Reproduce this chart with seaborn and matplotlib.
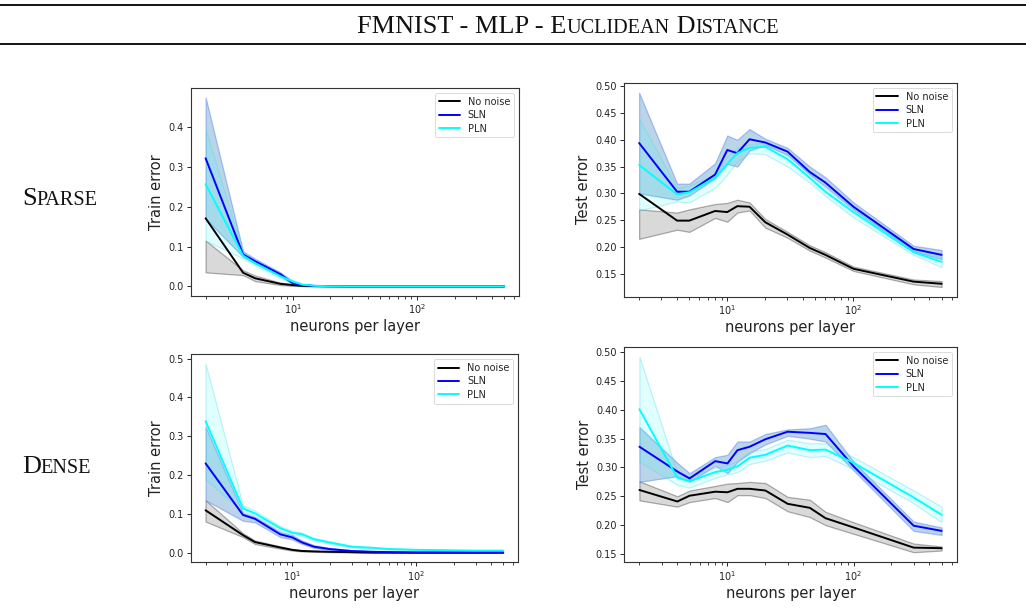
import numpy as np
import pandas as pd
import matplotlib
matplotlib.use("Agg")
import matplotlib.pyplot as plt
import seaborn as sns
from matplotlib.lines import Line2D

# ---------------- data ----------------
neurons = [2, 4, 5, 8, 10, 12, 15, 20, 30, 45, 60, 100, 300, 500]
series_names = ["No noise", "SLN", "PLN"]

# Sparse - train
sp_tr_none = [0.171, 0.034, 0.020, 0.006, 0.003, 0.001, 0.0005, 0, 0, 0, 0, 0, 0, 0]
sp_tr_none_lo = [0.035, 0.028, 0.013, 0.003, 0.001, 0.0003, 0, 0, 0, 0, 0, 0, 0, 0]
sp_tr_none_hi = [0.115, 0.040, 0.027, 0.009, 0.005, 0.002, 0.001, 0, 0, 0, 0, 0, 0, 0]
sp_tr_sln = [0.322, 0.080, 0.063, 0.030, 0.008, 0.003, 0.001, 0.0005, 0, 0, 0, 0, 0, 0]
sp_tr_sln_lo = [0.170, 0.074, 0.057, 0.025, 0.005, 0.001, 0, 0, 0, 0, 0, 0, 0, 0]
sp_tr_sln_hi = [0.475, 0.088, 0.069, 0.035, 0.012, 0.005, 0.002, 0.001, 0, 0, 0, 0, 0, 0]
sp_tr_pln = [0.257, 0.077, 0.058, 0.025, 0.012, 0.004, 0.001, 0, 0, 0, 0, 0, 0, 0]
sp_tr_pln_lo = [0.115, 0.070, 0.052, 0.020, 0.008, 0.002, 0, 0, 0, 0, 0, 0, 0, 0]
sp_tr_pln_hi = [0.395, 0.085, 0.065, 0.030, 0.016, 0.006, 0.002, 0, 0, 0, 0, 0, 0, 0]

# Sparse - test
sp_te_none = [0.299, 0.249, 0.249, 0.267, 0.265, 0.276, 0.275, 0.246, 0.223, 0.198, 0.185, 0.159, 0.135, 0.131]
sp_te_none_lo = [0.215, 0.232, 0.228, 0.254, 0.247, 0.264, 0.268, 0.236, 0.217, 0.193, 0.180, 0.155, 0.130, 0.125]
sp_te_none_hi = [0.270, 0.264, 0.270, 0.280, 0.282, 0.288, 0.283, 0.252, 0.228, 0.203, 0.190, 0.163, 0.139, 0.136]
sp_te_sln = [0.394, 0.303, 0.303, 0.335, 0.381, 0.375, 0.401, 0.395, 0.378, 0.340, 0.320, 0.275, 0.196, 0.185]
sp_te_sln_lo = [0.300, 0.288, 0.296, 0.328, 0.355, 0.350, 0.380, 0.390, 0.372, 0.335, 0.313, 0.270, 0.192, 0.177]
sp_te_sln_hi = [0.488, 0.318, 0.318, 0.356, 0.408, 0.400, 0.420, 0.402, 0.385, 0.350, 0.330, 0.283, 0.202, 0.194]
sp_te_pln = [0.353, 0.298, 0.302, 0.329, 0.355, 0.375, 0.385, 0.387, 0.364, 0.329, 0.303, 0.265, 0.190, 0.172]
sp_te_pln_lo = [0.268, 0.285, 0.283, 0.310, 0.335, 0.360, 0.375, 0.373, 0.350, 0.320, 0.295, 0.255, 0.185, 0.162]
sp_te_pln_hi = [0.440, 0.310, 0.315, 0.335, 0.370, 0.385, 0.392, 0.395, 0.370, 0.338, 0.310, 0.270, 0.197, 0.180]

# Dense - train
de_tr_none = [0.109, 0.045, 0.027, 0.013, 0.007, 0.004, 0.003, 0.002, 0.001, 0, 0, 0, 0, 0]
de_tr_none_lo = [0.080, 0.040, 0.022, 0.010, 0.005, 0.003, 0.002, 0.001, 0.0005, 0, 0, 0, 0, 0]
de_tr_none_hi = [0.135, 0.050, 0.031, 0.016, 0.009, 0.006, 0.004, 0.003, 0.0015, 0, 0, 0, 0, 0]
de_tr_sln = [0.230, 0.097, 0.087, 0.047, 0.039, 0.026, 0.015, 0.009, 0.004, 0.002, 0.001, 0, 0, 0]
de_tr_sln_lo = [0.135, 0.082, 0.078, 0.040, 0.034, 0.022, 0.012, 0.007, 0.003, 0.001, 0.0005, 0, 0, 0]
de_tr_sln_hi = [0.325, 0.102, 0.092, 0.053, 0.045, 0.031, 0.019, 0.012, 0.006, 0.003, 0.002, 0.001, 0, 0]
de_tr_pln = [0.339, 0.114, 0.101, 0.063, 0.051, 0.047, 0.034, 0.026, 0.015, 0.012, 0.009, 0.007, 0.005, 0.005]
de_tr_pln_lo = [0.189, 0.105, 0.095, 0.058, 0.047, 0.043, 0.030, 0.023, 0.013, 0.010, 0.008, 0.006, 0.004, 0.004]
de_tr_pln_hi = [0.487, 0.122, 0.108, 0.068, 0.056, 0.051, 0.038, 0.029, 0.018, 0.014, 0.011, 0.008, 0.006, 0.006]

# Dense - test
de_te_none = [0.261, 0.241, 0.251, 0.258, 0.257, 0.263, 0.263, 0.260, 0.237, 0.230, 0.212, 0.196, 0.161, 0.160]
de_te_none_lo = [0.243, 0.232, 0.240, 0.247, 0.240, 0.252, 0.252, 0.247, 0.224, 0.214, 0.200, 0.185, 0.153, 0.156]
de_te_none_hi = [0.276, 0.250, 0.260, 0.268, 0.272, 0.273, 0.275, 0.273, 0.249, 0.244, 0.223, 0.205, 0.168, 0.163]
de_te_sln = [0.336, 0.293, 0.281, 0.311, 0.307, 0.330, 0.336, 0.349, 0.362, 0.360, 0.358, 0.302, 0.199, 0.190]
de_te_sln_lo = [0.275, 0.285, 0.275, 0.303, 0.290, 0.310, 0.325, 0.340, 0.355, 0.350, 0.345, 0.295, 0.190, 0.183]
de_te_sln_hi = [0.370, 0.308, 0.290, 0.318, 0.322, 0.345, 0.345, 0.358, 0.366, 0.368, 0.374, 0.310, 0.206, 0.196]
de_te_pln = [0.401, 0.282, 0.276, 0.292, 0.296, 0.302, 0.317, 0.322, 0.338, 0.330, 0.331, 0.308, 0.248, 0.218]
de_te_pln_lo = [0.310, 0.270, 0.265, 0.282, 0.288, 0.292, 0.306, 0.312, 0.326, 0.318, 0.320, 0.297, 0.238, 0.205]
de_te_pln_hi = [0.492, 0.290, 0.285, 0.300, 0.305, 0.312, 0.327, 0.332, 0.348, 0.342, 0.342, 0.318, 0.260, 0.232]

title_parts = [("FMNIST - MLP - E", "big"), ("UCLIDEAN", "small"), (" D", "big"), ("ISTANCE", "small")]
row_labels = [[("S", "big"), ("PARSE", "small")], [("D", "big"), ("ENSE", "small")]]
xlabel = "neurons per layer"
ylabels = ["Train error", "Test error"]

# ---------------- styling ----------------
sns.set_style("ticks")
plt.rcParams["font.family"] = ["DejaVu Sans"]

line_colors = {"No noise": "black", "SLN": "blue", "PLN": "cyan"}
band_face = {"No noise": ("black", 0.15), "SLN": ("#1f77b4", 0.30), "PLN": ("cyan", 0.12)}
band_edge = {"No noise": ("black", 0.30), "SLN": ("#4f7fee", 0.45), "PLN": ("#5fd8e0", 0.35)}

W, H = 1026, 616
fig = plt.figure(figsize=(W / 100, H / 100), dpi=100)

def rect(l, t, r, b):
    return [l / W, 1 - b / H, (r - l) / W, (b - t) / H]

axes_rects = [
    rect(190.7, 88, 519, 295.7),
    rect(624, 83, 956.7, 296.7),
    rect(190.7, 354.3, 518, 562),
    rect(624.3, 347, 956.7, 562),
]

panels = [
    [(sp_tr_none, sp_tr_none_lo, sp_tr_none_hi), (sp_tr_sln, sp_tr_sln_lo, sp_tr_sln_hi), (sp_tr_pln, sp_tr_pln_lo, sp_tr_pln_hi)],
    [(sp_te_none, sp_te_none_lo, sp_te_none_hi), (sp_te_sln, sp_te_sln_lo, sp_te_sln_hi), (sp_te_pln, sp_te_pln_lo, sp_te_pln_hi)],
    [(de_tr_none, de_tr_none_lo, de_tr_none_hi), (de_tr_sln, de_tr_sln_lo, de_tr_sln_hi), (de_tr_pln, de_tr_pln_lo, de_tr_pln_hi)],
    [(de_te_none, de_te_none_lo, de_te_none_hi), (de_te_sln, de_te_sln_lo, de_te_sln_hi), (de_te_pln, de_te_pln_lo, de_te_pln_hi)],
]

for i, (r, pdata) in enumerate(zip(axes_rects, panels)):
    ax = fig.add_axes(r)
    rows = []
    for name, (m, lo, hi) in zip(series_names, pdata):
        for x, v in zip(neurons, m):
            rows.append({"neurons": x, "error": v, "series": name})
        fc, fa = band_face[name]
        ec, ea = band_edge[name]
        ax.fill_between(neurons, lo, hi, facecolor=matplotlib.colors.to_rgba(fc, fa),
                        edgecolor=matplotlib.colors.to_rgba(ec, ea), linewidth=0.9)
    df = pd.DataFrame(rows)
    sns.lineplot(data=df, x="neurons", y="error", hue="series", palette=line_colors,
                 hue_order=series_names, ax=ax, linewidth=1.4, errorbar=None)
    ax.set_xscale("log")
    ax.set_xlabel(xlabel, fontsize=10.5, labelpad=2, color="#222222")
    ax.set_ylabel(ylabels[i % 2], fontsize=10.5, labelpad=3, color="#222222")
    ax.tick_params(axis="both", labelsize=7, length=3, width=0.7, pad=2, labelcolor="#222222")
    ax.tick_params(axis="both", which="minor", length=1.8, width=0.6)
    if i % 2 == 1:
        ax.set_yticks(np.arange(0.15, 0.501, 0.05))
        ax.yaxis.set_major_formatter(matplotlib.ticker.FormatStrFormatter("%.2f"))
    else:
        ax.yaxis.set_major_formatter(matplotlib.ticker.FormatStrFormatter("%.1f"))
    for sp in ax.spines.values():
        sp.set_visible(True)
        sp.set_linewidth(0.8)
        sp.set_color("#333333")
    leg = ax.legend(loc="upper right", fontsize=7, frameon=True, fancybox=True,
                    handlelength=2.2, borderpad=0.4, labelspacing=0.35)
    leg.get_frame().set_linewidth(0.6)
    leg.get_frame().set_edgecolor("#cccccc")

# ---------------- title and row labels (small caps) ----------------
renderer = fig.canvas.get_renderer()
BIG, SMALL = 18.9, 14.6
serif = ["Liberation Serif", "DejaVu Serif"]

def small_caps(parts, x0, y_base, center=False):
    texts = []
    for s, kind in parts:
        t = fig.text(0, 0, s, fontsize=BIG if kind == "big" else SMALL, family=serif,
                     va="baseline", ha="left", transform=None, color="#111111")
        texts.append(t)
    widths = [t.get_window_extent(renderer).width for t in texts]
    total = sum(widths)
    x = x0 - total / 2 if center else x0
    for t, w in zip(texts, widths):
        t.set_position((x, H - y_base))
        x += w

small_caps(title_parts, 568, 33, center=True)
small_caps(row_labels[0], 22, 205)
small_caps(row_labels[1], 22, 473)

fig.add_artist(Line2D([0, 1], [1 - 5 / H, 1 - 5 / H], color="black", linewidth=1.3, transform=fig.transFigure))
fig.add_artist(Line2D([0, 1], [1 - 44 / H, 1 - 44 / H], color="black", linewidth=1.3, transform=fig.transFigure))

fig.savefig("out.png", dpi=100)
